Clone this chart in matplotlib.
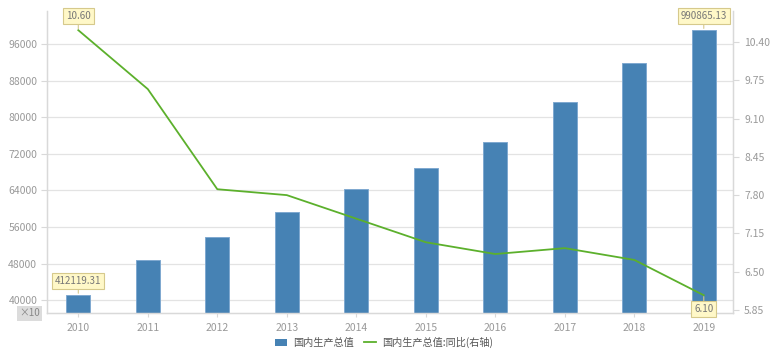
import numpy as np
import matplotlib
matplotlib.use("Agg")
import matplotlib.pyplot as plt
from matplotlib.lines import Line2D
from matplotlib.patches import Patch

plt.rcParams['font.family'] = ['Noto Sans CJK SC', 'DejaVu Sans']

# data: GDP (100 million yuan) and yoy growth (%)
years = ['2010', '2011', '2012', '2013', '2014', '2015', '2016', '2017', '2018', '2019']
gdp = [412119.31, 487940.18, 538579.95, 592963.23, 643563.10,
       688858.22, 746395.06, 832035.95, 919281.13, 990865.13]
growth = [10.6, 9.6, 7.9, 7.8, 7.4, 7.0, 6.8, 6.9, 6.7, 6.1]
left_ticks = [40000, 48000, 56000, 64000, 72000, 80000, 88000, 96000]
right_ticks = [5.85, 6.50, 7.15, 7.80, 8.45, 9.10, 9.75, 10.40]

bar_col = '#4682b4'
line_col = '#5cb02c'
grey = '#999999'
spine_col = '#d9d9d9'

fig = plt.figure(figsize=(7.8, 3.51), dpi=100)
ax = fig.add_axes([0.0603, 0.1083, 0.8794, 0.8604])
ax2 = ax.twinx()

x = np.arange(len(years))
gdp_scaled = np.array(gdp) / 10  # axis shows x10
ax.bar(x, gdp_scaled, width=0.345, color=bar_col, edgecolor='#7fa9d0', linewidth=0.7, zorder=2)
ax2.plot(x, growth, color=line_col, linewidth=1.3, zorder=3)

ax.set_xlim(-0.45, 9.42)
ax.set_ylim(37200, 103200)
ax2.set_ylim(5.799, 10.926)

ax.set_yticks(left_ticks)
ax.set_yticklabels([str(t) for t in left_ticks])
ax2.set_yticks(right_ticks)
ax2.set_yticklabels(['%.2f' % t for t in right_ticks])
ax.set_xticks(x)
ax.set_xticklabels(years)

ax.grid(axis='y', color='#e3e3e3', linewidth=0.9, zorder=0)
ax.set_axisbelow(True)

for a in (ax, ax2):
    a.spines['top'].set_visible(False)
    for s in ('left', 'right', 'bottom'):
        a.spines[s].set_color(spine_col)
        a.spines[s].set_linewidth(0.9)
    a.tick_params(colors=spine_col, labelcolor=grey, labelsize=7.5, length=3, width=0.8)
ax.tick_params(axis='y', length=4, pad=3)
ax.tick_params(axis='x', pad=4)
ax2.tick_params(axis='y', length=4, pad=4)

# value labels
box = dict(boxstyle='square,pad=0.3', fc='#fff8c8', ec='#d6c98c', lw=0.8)
def tag(axis, xi, yi, txt, dy):
    axis.annotate(txt, (xi, yi), xytext=(0, dy), textcoords='offset points',
                  ha='center', va='center', fontsize=7, color='#777777', bbox=box,
                  arrowprops=dict(arrowstyle='-', color='#d6c98c', lw=0.8, shrinkA=0, shrinkB=1),
                  zorder=5)

tag(ax, 0, gdp_scaled[0], '412119.31', 10)
tag(ax, 9, gdp_scaled[9], '990865.13', 10)
tag(ax2, 0, growth[0], '10.60', 10)
tag(ax2, 9, growth[9], '6.10', -10)

# unit marker
fig.text(0.038, 0.108, '×10', ha='center', va='center', fontsize=7, color='#888888',
         bbox=dict(boxstyle='square,pad=0.25', fc='#dcdcdc', ec='none'))

handles = [Patch(facecolor=bar_col, edgecolor='none'),
           Line2D([0], [0], color=line_col, lw=1.3)]
fig.legend(handles, ['国内生产总值', '国内生产总值:同比(右轴)'], loc='center',
           bbox_to_anchor=(0.492, 0.025), ncol=2, frameon=False, fontsize=7.3,
           labelcolor='#555555', handlelength=1.2, handleheight=0.7,
           handletextpad=0.6, columnspacing=1.0)

fig.savefig('out.png', dpi=100)
